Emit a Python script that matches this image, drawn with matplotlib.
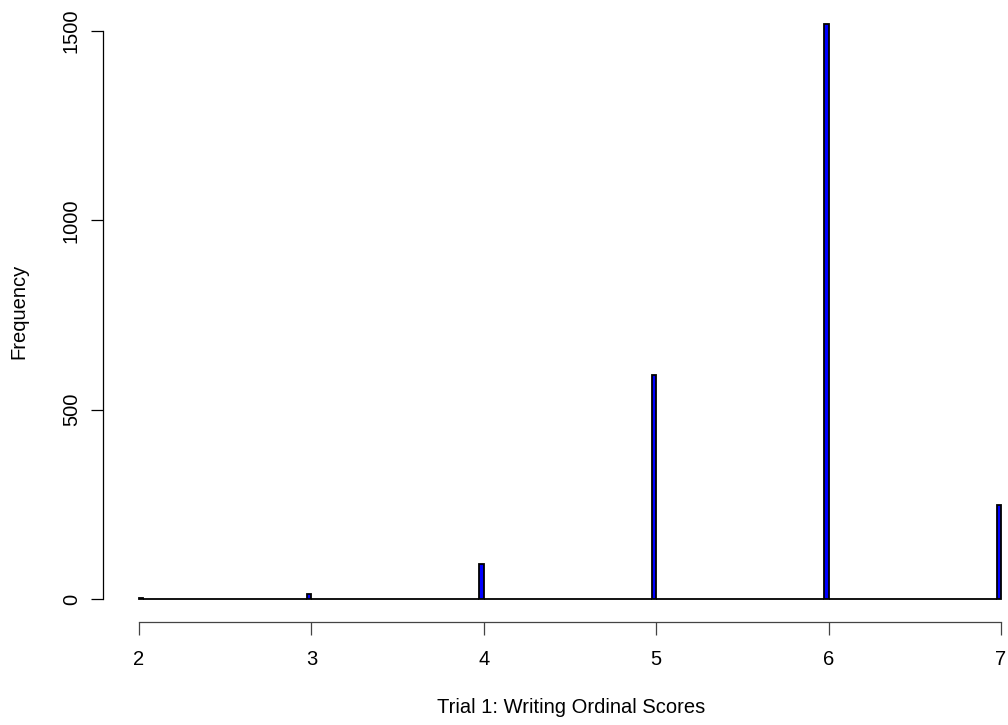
import numpy as np
import matplotlib
matplotlib.use('Agg')
import matplotlib.pyplot as plt

plt.rcParams['font.family'] = ['Liberation Sans', 'DejaVu Sans']

# Writing ordinal scores (trial 1) and how many students got each score
scores = [2, 3, 4, 5, 6, 7]
counts = [3, 13, 93, 591, 1519, 249]

# Narrow bins, as in a fine-grained histogram (right-closed intervals)
edges = np.linspace(2, 7, 201)
freq = np.zeros(len(edges) - 1)
for s, c in zip(scores, counts):
    idx = np.searchsorted(edges, s, side='left') - 1
    idx = max(idx, 0)
    freq[idx] += c

fig = plt.figure(figsize=(10.08, 7.25), dpi=100)
ax = fig.add_axes([103 / 1008, 103 / 725, 905 / 1008, 622 / 725])

ax.bar(edges[:-1], freq, width=np.diff(edges), align='edge',
       color='#0000FF', edgecolor='black', linewidth=1.3)

ax.set_xlim(1.791, 7.041)
ax.set_ylim(-60.7, 1581.7)

for side in ['top', 'right']:
    ax.spines[side].set_visible(False)
ax.spines['left'].set_bounds(0, 1500)
ax.spines['bottom'].set_bounds(2, 7)
ax.spines['left'].set_linewidth(0.9)
ax.spines['bottom'].set_linewidth(0.9)
ax.spines['bottom'].set_color('#444444')

ax.set_xticks(scores)
ax.set_yticks([0, 500, 1000, 1500])
ax.tick_params(axis='x', length=9, width=0.9, pad=11, labelsize=14.5,
               color='#444444')
ax.tick_params(axis='y', length=9, width=0.9, pad=7, labelsize=14.5,
               labelrotation=90)
for lbl in ax.get_yticklabels():
    lbl.set_va('center')

ax.set_xlabel('Trial 1: Writing Ordinal Scores', fontsize=14.5)
ax.set_ylabel('Frequency', fontsize=14.5, labelpad=24)
# the x title sits centred on the full plotting range, which runs past the right edge
ax.xaxis.set_label_coords(0.517, -0.1367)
ax.xaxis.label.set_va('center')

fig.savefig('out.png', dpi=100)
